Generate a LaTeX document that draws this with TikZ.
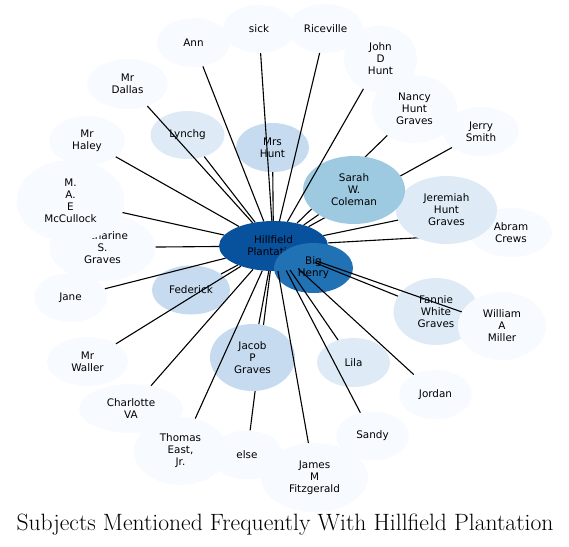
\documentclass[tikz,border=0pt]{standalone}
\usepackage{fontspec}
\newfontfamily\dejavu{DejaVu Sans}
\usetikzlibrary{shapes.geometric}
\definecolor{b0}{HTML}{F7FBFF}
\definecolor{b1}{HTML}{DEEBF7}
\definecolor{b2}{HTML}{C6DBEF}
\definecolor{b3}{HTML}{9ECAE1}
\definecolor{b5}{HTML}{2171B5}
\definecolor{b6}{HTML}{08519C}
\tikzset{
  ent/.style={ellipse, fill=b0, draw=none, inner sep=0pt, align=center,
    font=\dejavu\fontsize{10.4}{12}\selectfont, text=black},
  conn/.style={draw=black, line width=1.1pt},
}
\begin{document}
\begin{tikzpicture}[x=1pt,y=-1pt]
\useasboundingbox (0,0) rectangle (569,546);
% centre nodes
\node[ent, fill=b6, minimum width=109pt, minimum height=50pt] (hill) at (273.5,246) {Hillfield\\Plantation};
\node[ent, fill=b5, minimum width=79pt, minimum height=50pt] (big) at (313.5,268) {Big\\Henry};
% outer nodes (first layer)
\node[ent, minimum width=82pt, minimum height=49pt] (abram) at (511,232.5) {Abram\\Crews};
\node[ent, minimum width=73pt, minimum height=67pt] (john) at (380.5,59) {John\\D\\Hunt};
\node[ent, minimum width=85pt, minimum height=68pt] (nancy) at (414.5,109) {Nancy\\Hunt\\Graves};
\node[ent, minimum width=76pt, minimum height=49pt] (jerry) at (481,131.5) {Jerry\\Smith};
\node[ent, minimum width=106pt, minimum height=67pt] (cath) at (102.5,247.5) {Catharine\\S.\\Graves};
\node[ent, minimum width=104pt, minimum height=49pt] (charl) at (131,408.5) {Charlotte\\VA};
\node[ent, minimum width=72pt, minimum height=49pt] (else) at (247,455) {else};
\node[ent, minimum width=93pt, minimum height=68pt] (thomas) at (180.5,451) {Thomas\\East,\\Jr.};
\node[ent, minimum width=107pt, minimum height=69pt] (james) at (314.5,477.5) {James\\M\\Fitzgerald};
\node[ent, minimum width=73pt, minimum height=49pt] (ann) at (193.5,42.5) {Ann};
\node[ent, minimum width=72pt, minimum height=48pt] (sick) at (259,29) {sick};
\node[ent, minimum width=75pt, minimum height=49pt] (rice) at (325.5,28.5) {Riceville};
\node[ent, minimum width=76pt, minimum height=49pt] (haley) at (87,140.5) {Mr\\Haley};
\node[ent, minimum width=81pt, minimum height=50pt] (dallas) at (127.5,84) {Mr\\Dallas};
\node[ent, minimum width=73pt, minimum height=49pt] (jane) at (70.5,297.5) {Jane};
\node[ent, minimum width=81pt, minimum height=49pt] (waller) at (87.5,361.5) {Mr\\Waller};
\node[ent, minimum width=73pt, minimum height=49pt] (sandy) at (372.5,436) {Sandy};
\node[ent, minimum width=73pt, minimum height=49pt] (jordan) at (435.5,394.5) {Jordan};
\node[ent, fill=b1, minimum width=73pt, minimum height=49pt] (lila) at (353.5,362.5) {Lila};
\node[ent, fill=b1, minimum width=85pt, minimum height=67pt] (fannie) at (436,311.5) {Fannie\\White\\Graves};
\node[ent, minimum width=88pt, minimum height=68pt] (william) at (502,326) {William\\A\\Miller};
\node[ent, fill=b1, minimum width=74pt, minimum height=48pt] (lynchg) at (187.5,135) {Lynchg};
\node[ent, fill=b2, minimum width=73pt, minimum height=49pt] (mrshunt) at (272.5,147.5) {Mrs\\Hunt};
\node[ent, fill=b2, minimum width=78pt, minimum height=49pt] (fed) at (191,290) {Federick};
\node[ent, minimum width=108pt, minimum height=82pt] (mcc) at (70.5,201) {M.\\A.\\E\\McCullock};
% connectors later covered by nodes
\draw[conn] (hill) -- (abram);
\draw[conn] (hill) -- (nancy);
\draw[conn] (hill) -- (jerry);
\draw[conn] (hill) -- (else);
% covering nodes
\node[ent, fill=b1, minimum width=101pt, minimum height=68pt] (jer) at (446.5,210) {Jeremiah\\Hunt\\Graves};
\node[ent, fill=b3, minimum width=102pt, minimum height=68pt] (sarah) at (354,190) {Sarah\\W.\\Coleman};
\node[ent, fill=b2, minimum width=85pt, minimum height=67pt] (jacob) at (252.5,357.5) {Jacob\\P\\Graves};
% remaining connectors
\draw[conn] (hill) -- (jer);
\draw[conn] (hill) -- (sarah);
\draw[conn] (hill) -- (jacob);
\draw[conn] (hill) -- (john);
\draw[conn] (hill) -- (cath);
\draw[conn] (hill) -- (mcc);
\draw[conn] (hill) -- (charl);
\draw[conn] (hill) -- (thomas);
\draw[conn] (hill) -- (james);
\draw[conn] (hill) -- (ann);
\draw[conn] (hill) -- (sick);
\draw[conn] (hill) -- (rice);
\draw[conn] (hill) -- (haley);
\draw[conn] (hill) -- (dallas);
\draw[conn] (hill) -- (jane);
\draw[conn] (hill) -- (waller);
\draw[conn] (hill) -- (sandy);
\draw[conn] (hill) -- (jordan);
\draw[conn] (hill) -- (lila);
\draw[conn] (hill) -- (fannie);
\draw[conn] (hill) -- (william);
\draw[conn] (hill) -- (lynchg);
\draw[conn] (hill) -- (mrshunt);
\draw[conn] (hill) -- (fed);
% title
\node[font=\fontsize{23.6}{26}\selectfont, inner sep=0pt] (title) at (285,525) {Subjects Mentioned Frequently With Hillfield Plantation};
\end{tikzpicture}
\end{document}
